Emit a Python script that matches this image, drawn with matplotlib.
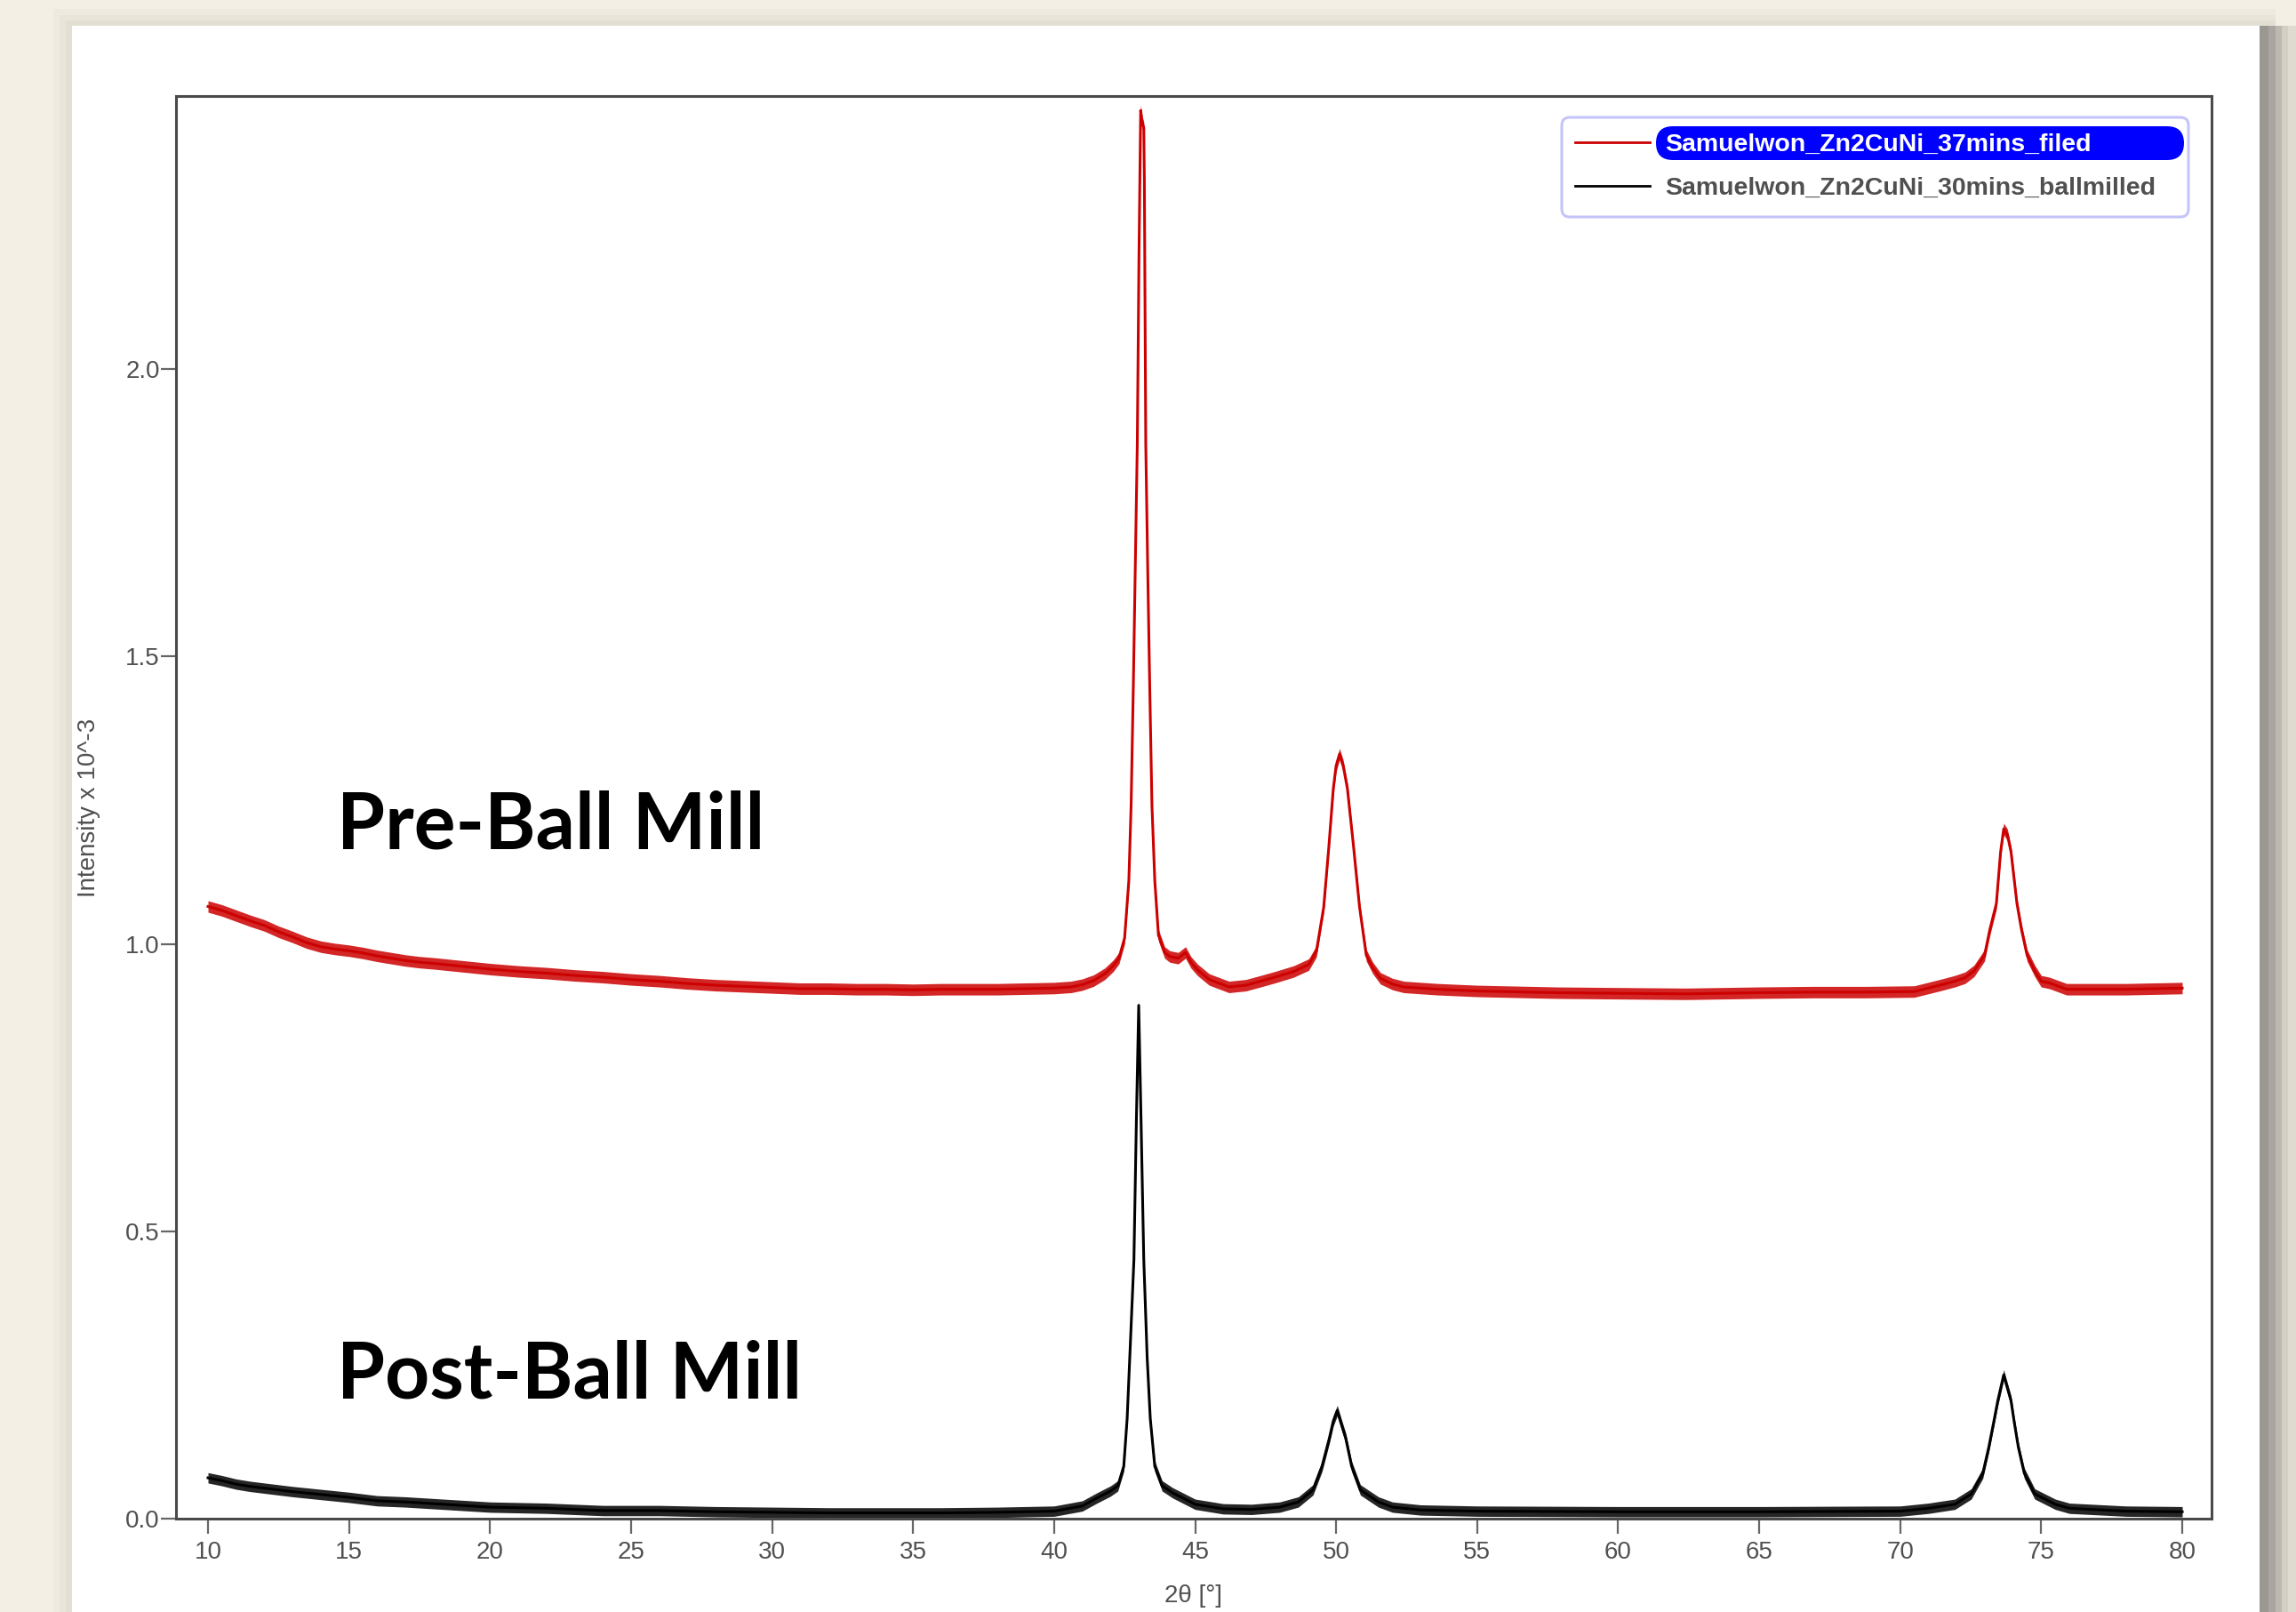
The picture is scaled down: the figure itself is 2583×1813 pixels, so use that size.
import numpy as np
import matplotlib.pyplot as plt
from matplotlib.patches import FancyBboxPatch, Rectangle
from matplotlib.lines import Line2D

W, H = 2583, 1813
DPI = 100

# XRD pattern (2theta in degrees, intensity x 10^-3)
two_theta_filed = [
    10.0, 10.5, 11.0, 11.5, 12.0, 12.5, 13.0, 13.5, 14.0, 14.5, 15.0, 15.5,
    16.0, 16.5, 17.0, 17.5, 18.0, 19.0, 20.0, 21.0, 22.0, 23.0, 24.0, 25.0,
    26.0, 27.0, 28.0, 29.0, 30.0, 31.0, 32.0, 33.0, 34.0, 35.0, 36.0, 37.0,
    38.0, 39.0, 40.0, 40.6, 41.0, 41.4, 41.8, 42.1, 42.3, 42.5, 42.65, 42.73,
    42.81, 42.88, 42.95, 43.01, 43.07, 43.12, 43.18, 43.2, 43.25, 43.32, 43.39,
    43.47, 43.57, 43.7, 43.92, 44.1, 44.4, 44.66, 44.85, 45.08, 45.5, 46.2,
    46.8, 47.4, 47.9, 48.5, 49.03, 49.3, 49.56, 49.74, 49.9, 50.0, 50.12,
    50.25, 50.4, 50.62, 50.83, 51.07, 51.3, 51.57, 52.0, 52.4, 53.6, 55.0,
    57.8, 60.0, 62.4, 65.0, 66.9, 68.8, 70.5, 71.4, 71.94, 72.3, 72.62, 72.99,
    73.18, 73.41, 73.56, 73.67, 73.8, 73.93, 74.14, 74.3, 74.5, 74.77, 75.0,
    75.29, 75.9, 77.0, 78.0, 79.0, 80.0,
]
intensity_filed = [
    1.065, 1.058, 1.049, 1.040, 1.032, 1.021, 1.012, 1.002, 0.995, 0.991, 0.988, 0.984,
    0.979, 0.975, 0.971, 0.968, 0.966, 0.961, 0.956, 0.952, 0.949, 0.945, 0.942, 0.938,
    0.935, 0.931, 0.928, 0.926, 0.924, 0.922, 0.922, 0.921, 0.921, 0.920, 0.921, 0.921,
    0.921, 0.922, 0.923, 0.925, 0.929, 0.936, 0.948, 0.962, 0.975, 1.01, 1.11, 1.24,
    1.45, 1.66, 1.87, 2.20, 2.45, 2.43, 2.42, 2.33, 1.87, 1.65, 1.45,
    1.24, 1.11, 1.015, 0.985, 0.978, 0.975, 0.985, 0.968, 0.955, 0.938, 0.925,
    0.928, 0.936, 0.943, 0.952, 0.964, 0.987, 1.064, 1.168, 1.27, 1.31, 1.33,
    1.31, 1.27, 1.168, 1.064, 0.98, 0.958, 0.94, 0.93, 0.925, 0.921, 0.918,
    0.915, 0.914, 0.913, 0.915, 0.916, 0.916, 0.917, 0.928, 0.935, 0.941, 0.953, 0.98,
    1.025, 1.07, 1.16, 1.20, 1.19, 1.16, 1.07, 1.025, 0.98, 0.953, 0.935,
    0.932, 0.921, 0.921, 0.921, 0.922, 0.923,
]

two_theta_milled = [
    10.0, 10.5, 11.0, 11.5, 12.0, 13.0, 14.0, 15.0, 16.0, 17.0, 18.0, 19.0,
    20.0, 22.0, 24.0, 26.0, 28.0, 30.0, 32.0, 34.0, 36.0, 38.0, 40.0, 41.0,
    41.52, 42.0, 42.26, 42.47, 42.59, 42.7, 42.83, 42.92, 43.0, 43.08, 43.18,
    43.3, 43.41, 43.57, 43.83, 44.2, 44.56, 45.0, 46.0, 47.0, 48.0, 48.66,
    49.18, 49.5, 49.76, 49.9, 50.04, 50.15, 50.34, 50.55, 50.86, 51.5, 52.0,
    53.0, 55.0, 60.0, 65.0, 70.0, 71.0, 71.94, 72.52, 72.93, 73.14, 73.32,
    73.46, 73.67, 73.93, 74.04, 74.19, 74.4, 74.77, 75.5, 76.0, 78.0, 80.0,
]
intensity_milled = [
    0.071, 0.066, 0.060, 0.056, 0.053, 0.047, 0.042, 0.037, 0.031, 0.029, 0.026, 0.023,
    0.020, 0.018, 0.014, 0.014, 0.012, 0.011, 0.010, 0.010, 0.010, 0.011, 0.013, 0.022,
    0.036, 0.048, 0.057, 0.091, 0.174, 0.30, 0.45, 0.70, 0.893, 0.70, 0.45,
    0.28, 0.174, 0.091, 0.057, 0.045, 0.036, 0.025, 0.017, 0.016, 0.020, 0.029,
    0.05, 0.091, 0.14, 0.17, 0.188, 0.17, 0.14, 0.091, 0.05, 0.029, 0.02,
    0.015, 0.013, 0.012, 0.012, 0.013, 0.018, 0.025, 0.043, 0.079, 0.124, 0.169,
    0.205, 0.25, 0.205, 0.169, 0.124, 0.079, 0.043, 0.025, 0.018, 0.013, 0.012,
]

series_labels = ["Samuelwon_Zn2CuNi_37mins_filed", "Samuelwon_Zn2CuNi_30mins_ballmilled"]
series_colors = ["#cc0000", "#000000"]
x_ticks = [10, 15, 20, 25, 30, 35, 40, 45, 50, 55, 60, 65, 70, 75, 80]
y_ticks = [0.0, 0.5, 1.0, 1.5, 2.0]


def fx(px):
    return px / W


def fy(py):
    return 1 - py / H


def fig_box(x0, y0, x1, y1, **kw):
    # rectangle given in picture pixels (top-left origin), behind the axes
    return Rectangle((fx(x0), fy(y1)), fx(x1) - fx(x0), fy(y0) - fy(y1),
                     transform=fig.transFigure, lw=0, zorder=-10, **kw)


def round_box(x0, y0, x1, y1, r, **kw):
    return FancyBboxPatch((fx(x0), fy(y1)), fx(x1) - fx(x0), fy(y0) - fy(y1),
                          boxstyle=f"round,pad=0,rounding_size={r / W}",
                          mutation_aspect=W / H, transform=fig.transFigure, **kw)


fig = plt.figure(figsize=(W / DPI, H / DPI), dpi=DPI, facecolor="#f3efe4")

# page shadow and white sheet
for (a, b), c in zip([(60, 67), (67, 74), (74, 81)], ["#eeeadf", "#e9e5d9", "#e3dfd3"]):
    fig.add_artist(fig_box(a, 10 + (a - 60) // 3, b, H, color=c))
for (a, b), c in zip([(10, 17), (17, 23), (23, 29)], ["#eeeadf", "#e9e5d9", "#e3dfd3"]):
    fig.add_artist(fig_box(60 + (a - 10), a, 2560, b, color=c))
for (a, b), c in zip([(2542, 2552), (2552, 2560), (2560, 2567), (2567, 2574), (2574, 2583)],
                     ["#9b9791", "#a9a69f", "#bcb9b0", "#d3cfc5", "#dfdbd0"]):
    fig.add_artist(fig_box(a, 29, b, H, color=c))
fig.add_artist(fig_box(81, 29, 2542, H, color="white"))

ax = fig.add_axes([fx(198), fy(1708), fx(2488) - fx(198), fy(108) - fy(1708)])
ax.set_facecolor("white")

for x, y, c, w in [
    (two_theta_filed, intensity_filed, series_colors[0], 0.010),
    (two_theta_milled, intensity_milled, series_colors[1], 0.009),
]:
    x = np.array(x)
    y = np.array(y)
    # noisy scan band
    ax.fill_between(x, y - w, y + w, color=c, alpha=0.85, lw=0)
    ax.plot(x, y, color=c, lw=2.2, solid_joinstyle="round")

ax.set_xlim(8.865, 81.04)
ax.set_ylim(0, 2.475)
ax.set_xticks(x_ticks)
ax.set_yticks(y_ticks)
ax.set_yticklabels([f"{v:.1f}" for v in y_ticks])

for s in ax.spines.values():
    s.set_color("#4a4a4a")
    s.set_linewidth(2.2)
ax.tick_params(direction="out", length=12, width=1.6, color="#666666",
               labelsize=20, labelcolor="#505050")
ax.tick_params(axis="y", pad=1)
ax.tick_params(axis="x", pad=6)
for lab in ax.get_xticklabels() + ax.get_yticklabels():
    lab.set_family(["Liberation Sans", "DejaVu Sans"])

ax.set_xlabel("2θ [°]", fontsize=20, color="#505050", family=["Liberation Sans", "DejaVu Sans"])
ax.xaxis.set_label_coords(0.5, -0.046)
ax.set_ylabel("Intensity x 10^-3", fontsize=20, color="#505050", family=["Liberation Sans", "DejaVu Sans"])
ax.yaxis.set_label_coords(-0.037, 0.5)

ax.text(14.57, 1.165, "Pre-Ball Mill", fontsize=63, fontweight="bold",
        family=["Lato", "DejaVu Sans"], color="black", va="baseline", ha="left")
ax.text(14.57, 0.209, "Post-Ball Mill", fontsize=63, fontweight="bold",
        family=["Lato", "DejaVu Sans"], color="black", va="baseline", ha="left")

# legend, drawn by hand so the selected entry can be highlighted
fig.add_artist(round_box(1757, 132, 2462, 244, 9, facecolor="white",
                         edgecolor="#c4c4fa", lw=2.2, zorder=5))
fig.add_artist(round_box(1863, 142, 2457, 180, 19, facecolor="#0000ff", lw=0, zorder=6))
for k, (lab, c, yc) in enumerate(zip(series_labels, series_colors, [160, 209])):
    fig.add_artist(Line2D([fx(1772), fx(1856)], [fy(yc), fy(yc)], color=c, lw=2.0,
                          transform=fig.transFigure, zorder=7))
    fig.text(fx(1873), fy(yc), lab, fontsize=20.5, fontweight="bold",
             family=["Liberation Sans", "DejaVu Sans"], zorder=8,
             color="white" if k == 0 else "#505050", va="center_baseline", ha="left")

fig.savefig("out.png", dpi=DPI, facecolor=fig.get_facecolor())
